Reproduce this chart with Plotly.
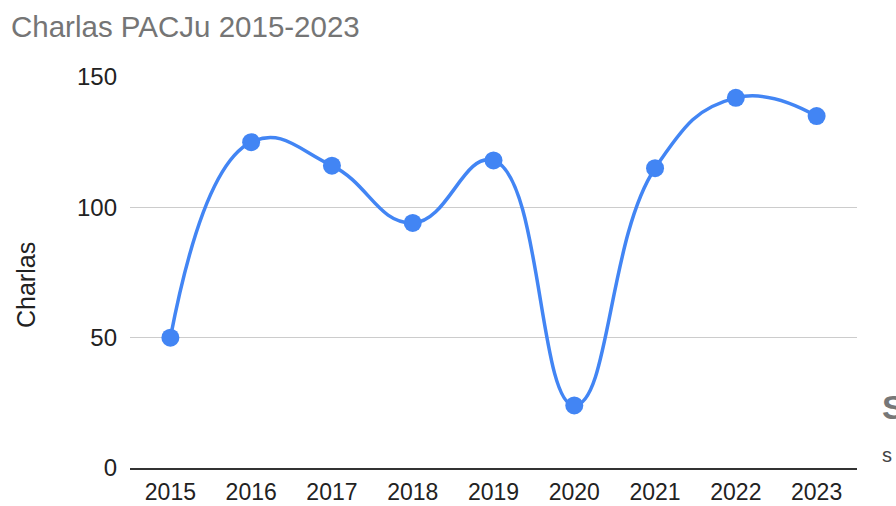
import plotly.graph_objects as go

years = ["2015", "2016", "2017", "2018", "2019", "2020", "2021", "2022", "2023"]
charlas = [50, 125, 116, 94, 118, 24, 115, 142, 135]
y_ticks = [0, 50, 100, 150]

BLUE = "#4285F4"
FONT = "Liberation Sans, Arial, sans-serif"

fig = go.Figure()
fig.add_trace(go.Scatter(
    x=years, y=charlas,
    mode="lines+markers",
    line=dict(color=BLUE, width=3.5, shape="spline", smoothing=1.3),
    marker=dict(color=BLUE, size=18),
    showlegend=False,
))

fig.update_layout(
    width=896, height=506,
    margin=dict(l=130, r=39, t=77, b=38, autoexpand=False),
    paper_bgcolor="white", plot_bgcolor="white",
    font=dict(family=FONT, color="#222222", size=23),
    title=dict(text="Charlas PACJu 2015-2023", x=11/896, xanchor="left",
               y=1-27/506, yanchor="middle",
               font=dict(family=FONT, size=29.5, color="#757575")),
    xaxis=dict(type="category", range=[-0.5, 8.5], showgrid=False,
               showline=True, linecolor="#333333", linewidth=2,
               ticks="", tickfont=dict(size=23, color="#222222"),
               ticklabelstandoff=2, zeroline=False, automargin=False),
    yaxis=dict(range=[0, 150], tickvals=y_ticks, showgrid=True,
               gridcolor="#cccccc", gridwidth=1, zeroline=False,
               showline=False, ticks="", ticklabelstandoff=12,
               tickfont=dict(size=24, color="#222222"), automargin=False),
    annotations=[
        dict(text="Charlas", xref="paper", yref="paper",
             x=-(130-26)/727, y=1-(285-77)/391, textangle=-90,
             showarrow=False, xanchor="center", yanchor="middle",
             font=dict(family=FONT, size=25, color="#222222")),
        dict(text="<b>S</b>", xref="paper", yref="paper",
             x=(880-130)/727, y=1-(407-77)/391, showarrow=False,
             xanchor="left", yanchor="middle",
             font=dict(family=FONT, size=34, color="#777777")),
        dict(text="s", xref="paper", yref="paper",
             x=(880-130)/727, y=1-(455-77)/391, showarrow=False,
             xanchor="left", yanchor="middle",
             font=dict(family=FONT, size=20, color="#444444")),
    ],
)

fig.write_html("out.html", config={"displayModeBar": False},
               post_script="document.body.style.margin='0';")
